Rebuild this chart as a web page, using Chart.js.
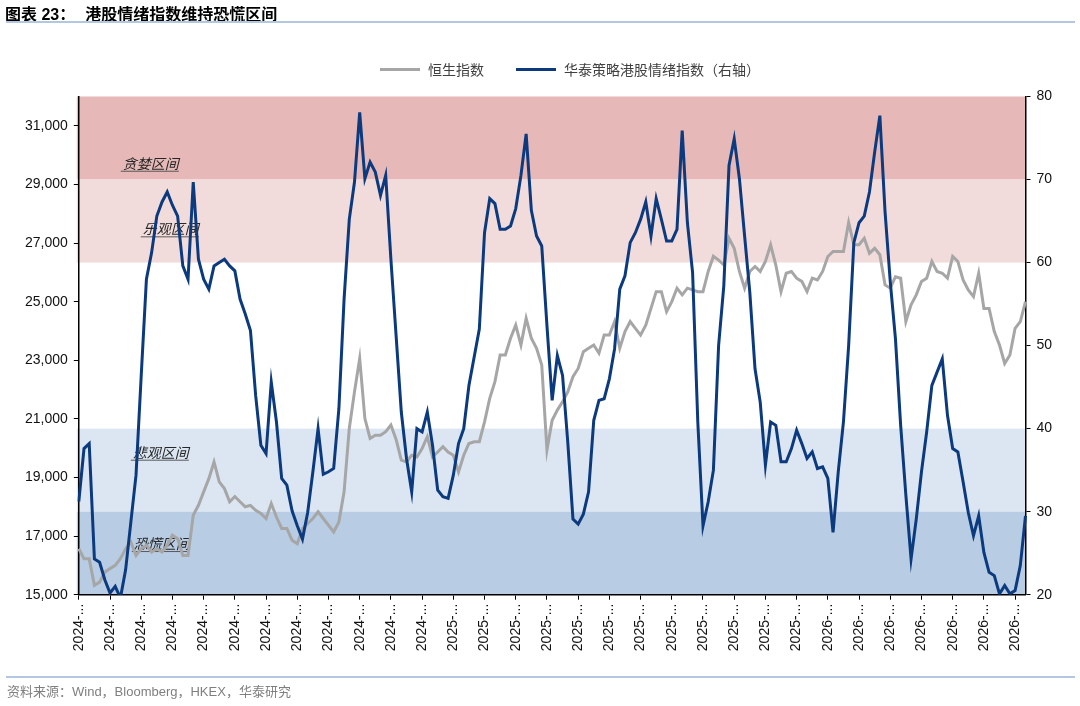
<!DOCTYPE html>
<html>
<head>
<meta charset="utf-8">
<title>港股情绪指数维持恐慌区间</title>
<script src="https://cdn.jsdelivr.net/npm/chart.js@4.4.1/dist/chart.umd.min.js"></script>
<style>
  html, body { margin: 0; padding: 0; background: #fff; }
  #wrap { position: relative; width: 1080px; height: 706px; overflow: hidden; }
  #chart { position: absolute; left: 0; top: 0; }
  .title { position: absolute; left: 5px; top: 1px; font: bold 16px "Liberation Sans", "Noto Sans CJK SC", sans-serif; color: #000; white-space: nowrap; }
  .title .main { margin-left: 10px; }
  .rule { position: absolute; left: 6px; width: 1069px; height: 2px; background: #b4c6e2; }
  .legend { position: absolute; top: 59px; left: 380px; display: flex; align-items: center; font: 14px "Noto Sans CJK SC", sans-serif; color: #404040; white-space: nowrap; }
  .legend .swatch { width: 40px; height: 3px; margin-right: 8px; }
  .legend .gap { width: 32px; }
  .source { position: absolute; left: 7px; top: 681px; font: 13px "Liberation Sans", "Noto Sans CJK SC", sans-serif; color: #7f7f7f; white-space: nowrap; }
</style>
</head>
<body>
<div id="wrap">
  <canvas id="chart" width="1080" height="706"></canvas>
  <div class="title">图表 23：<span class="main">港股情绪指数维持恐慌区间</span></div>
  <div class="rule" style="top:21px"></div>
  <div class="legend">
    <div class="swatch" style="background:#a6a6a6"></div><span>恒生指数</span>
    <div class="gap"></div>
    <div class="swatch" style="background:#0b3a7e"></div><span>华泰策略港股情绪指数（右轴）</span>
  </div>
  <div class="rule" style="top:676px; height:1.5px"></div>
  <div class="source">资料来源：Wind，Bloomberg，HKEX，华泰研究</div>
</div>
<script>
'use strict';

// one tick label per month, 6 observations per month
var tickLabels = [
    '2024-01', '2024-02', '2024-03', '2024-04', '2024-05', '2024-06',
    '2024-07', '2024-08', '2024-09', '2024-10', '2024-11', '2024-12',
    '2025-01', '2025-02', '2025-03', '2025-04', '2025-05', '2025-06',
    '2025-07', '2025-08', '2025-09', '2025-10', '2025-11', '2025-12',
    '2026-01', '2026-02', '2026-03', '2026-04', '2026-05', '2026-06',
    '2026-07'
];
var perMonth = 6;

// left axis ticks (恒生指数)
var leftTicks = [15000, 17000, 19000, 21000, 23000, 25000, 27000, 29000, 31000];
// right axis ticks (情绪指数)
var rightTicks = [20, 30, 40, 50, 60, 70, 80];

// 恒生指数 (left axis)
var hsi = [
    16570, 16230, 16230, 15320, 15430, 15770, 15890, 16000, 16230, 16570,
    16800, 16340, 16570, 16690, 16460, 16570, 16460, 16690, 17030, 16910,
    16340, 16340, 17710, 18050, 18510, 18960, 19530, 18850, 18620, 18170,
    18350, 18170, 18000, 18050, 17880, 17770, 17600, 18110, 17650, 17260,
    17260, 16860, 16740, 17260, 17430, 17600, 17830, 17600, 17370, 17140,
    17480, 18510, 20670, 21920, 23060, 21010, 20330, 20440, 20440, 20560,
    20790, 20300, 19590, 19530, 19760, 19700, 19990, 20390, 19700, 19870,
    20050, 19870, 19760, 19190, 19760, 20160, 20220, 20220, 20900, 21700,
    22270, 23180, 23180, 23750, 24200, 23520, 24430, 23750, 23410, 22840,
    19930, 20950, 21300, 21580, 21920, 22440, 22720, 23290, 23410, 23520,
    23240, 23860, 23860, 24320, 23410, 23980, 24320, 24090, 23860, 24200,
    24770, 25340, 25340, 24660, 25000, 25460, 25230, 25460, 25400, 25340,
    25340, 26030, 26550, 26420, 26250, 27160, 26820, 26030, 25460, 26030,
    26200, 26030, 26370, 26940, 26250, 25340, 25970, 26030, 25800, 25690,
    25340, 25800, 25740, 26030, 26540, 26710, 26710, 26710, 27700, 26940,
    26940, 27160, 26650, 26820, 26600, 25570, 25460, 25850, 25800, 24320,
    24890, 25230, 25690, 25800, 26370, 26030, 25970, 25800, 26540, 26370,
    25740, 25400, 25170, 25970, 24770, 24770, 23980, 23520, 22890, 23180,
    24090, 24320, 25000
];

// 华泰策略港股情绪指数 (right axis)
var sentiment = [
    31.2, 37.6, 38.2, 24.3, 23.9, 21.8, 20.2, 21.0, 19.6, 23.0,
    28.7, 34.4, 46.4, 58.0, 61.2, 65.6, 67.3, 68.5, 66.9, 65.6,
    59.6, 58.0, 69.7, 60.4, 58.0, 56.8, 59.6, 60.0, 60.4, 59.6,
    59.0, 55.6, 53.8, 51.8, 44.0, 38.0, 37.0, 45.6, 40.8, 34.0,
    33.2, 30.1, 28.3, 26.7, 29.9, 34.8, 40.0, 34.5, 34.8, 35.2,
    42.4, 55.6, 65.2, 69.7, 78.1, 70.1, 72.1, 70.9, 68.1, 70.5,
    60.4, 51.2, 42.0, 36.4, 32.4, 40.0, 39.6, 42.0, 38.0, 32.6,
    31.8, 31.6, 34.4, 38.2, 40.0, 45.2, 48.6, 52.0, 63.6, 67.7,
    67.1, 64.0, 64.0, 64.4, 66.5, 70.5, 75.5, 66.3, 63.2, 62.0,
    52.4, 43.4, 48.8, 46.4, 38.4, 29.1, 28.5, 29.7, 32.4, 41.0,
    43.4, 43.6, 46.0, 49.6, 56.8, 58.4, 62.4, 63.6, 65.2, 67.3,
    63.2, 67.7, 65.2, 62.6, 62.6, 64.0, 75.9, 64.8, 58.8, 40.8,
    28.3, 31.2, 35.0, 50.0, 57.2, 71.7, 74.9, 70.1, 63.2, 56.4,
    47.2, 43.2, 35.6, 40.8, 40.4, 36.0, 36.0, 37.6, 39.8, 38.2,
    36.4, 37.2, 35.2, 35.4, 34.0, 27.5, 34.8, 40.8, 50.0, 62.4,
    64.8, 65.6, 68.5, 73.3, 77.7, 66.1, 57.7, 50.8, 40.4, 32.0,
    24.3, 29.1, 34.8, 39.6, 45.2, 46.8, 48.4, 41.6, 37.6, 37.2,
    33.6, 29.9, 27.1, 29.5, 25.1, 22.7, 22.3, 20.1, 21.1, 20.1,
    20.5, 23.5, 29.5
];

// sentiment zones on the right axis
var zones = [
    { from: 70, to: 80, color: '#e6b8b7', name: '贪婪区间', at: 71.3, dx: 44 },
    { from: 60, to: 70, color: '#f2dcdb', name: '乐观区间', at: 63.4, dx: 64 },
    { from: 30, to: 40, color: '#dce6f2', name: '悲观区间', at: 36.5, dx: 54 },
    { from: 20, to: 30, color: '#b8cce4', name: '恐慌区间', at: 25.5, dx: 55 }
];

var categories = hsi.map(function (v, i) {
    return tickLabels[Math.floor(i / perMonth)];
});

var zonePlugin = {
    id: 'zones',
    beforeDraw: function (chart) {
        var ctx = chart.ctx;
        var area = chart.chartArea;
        var y1 = chart.scales.y1;
        ctx.save();
        zones.forEach(function (z) {
            var top = y1.getPixelForValue(z.to);
            var bottom = y1.getPixelForValue(z.from);
            ctx.fillStyle = z.color;
            ctx.fillRect(area.left - 2, top, area.right - area.left + 2, bottom - top);
        });
        ctx.font = 'italic 14px "Noto Sans CJK SC", sans-serif';
        ctx.textBaseline = 'alphabetic';
        zones.forEach(function (z) {
            var x = area.left + z.dx;
            var y = y1.getPixelForValue(z.at);
            var w = ctx.measureText(z.name).width;
            ctx.fillStyle = '#262626';
            ctx.fillText(z.name, x, y);
            ctx.strokeStyle = '#595959';
            ctx.lineWidth = 1;
            ctx.beginPath();
            ctx.moveTo(x - 2, y + 2.5);
            ctx.lineTo(x + w, y + 2.5);
            ctx.stroke();
        });
        ctx.restore();
    }
};

var axisFont = { family: '"Liberation Sans", Arial, sans-serif', size: 14 };

function axisGrid() {
    return { display: true, drawOnChartArea: false, drawTicks: true, tickLength: 5, color: '#000', lineWidth: 1 };
}

function fixedTicks(values) {
    return function (scale) {
        scale.ticks = values.map(function (v) { return { value: v }; });
    };
}

new Chart(document.getElementById('chart'), {
    type: 'line',
    data: {
        labels: categories,
        datasets: [{
            label: '恒生指数',
            data: hsi,
            yAxisID: 'y',
            borderColor: '#a6a6a6',
            borderWidth: 3,
            pointRadius: 0,
            tension: 0,
            order: 2
        }, {
            label: '华泰策略港股情绪指数（右轴）',
            data: sentiment,
            yAxisID: 'y1',
            borderColor: '#0b3a7e',
            borderWidth: 3,
            pointRadius: 0,
            tension: 0,
            order: 1
        }]
    },
    options: {
        responsive: false,
        animation: false,
        layout: { padding: { top: 96.5, left: 0, right: 0, bottom: 0 } },
        plugins: {
            legend: { display: false },
            tooltip: { enabled: false }
        },
        scales: {
            x: {
                type: 'category',
                offset: false,
                grid: axisGrid(),
                border: { display: true, color: '#000', width: 1.5 },
                afterBuildTicks: function (scale) {
                    scale.ticks = scale.ticks.filter(function (t) { return t.value % perMonth === 0; });
                },
                afterFit: function (scale) { scale.height = 111.3; },
                ticks: {
                    autoSkip: false,
                    maxRotation: 90,
                    minRotation: 90,
                    padding: 4,
                    color: '#111',
                    font: axisFont,
                    callback: function (value) {
                        return tickLabels[value / perMonth].slice(0, 5) + '...';
                    }
                }
            },
            y: {
                position: 'left',
                min: 15000,
                max: 32000,
                grid: axisGrid(),
                border: { display: true, color: '#000', width: 1.5 },
                afterBuildTicks: fixedTicks(leftTicks),
                afterFit: function (scale) { scale.width = 78.8; },
                ticks: {
                    padding: 6,
                    color: '#111',
                    font: axisFont,
                    callback: function (v) { return v.toLocaleString('en-US'); }
                }
            },
            y1: {
                position: 'right',
                min: 20,
                max: 80,
                grid: axisGrid(),
                border: { display: true, color: '#000', width: 1.5 },
                afterBuildTicks: fixedTicks(rightTicks),
                afterFit: function (scale) { scale.width = 54.5; },
                ticks: {
                    padding: 6,
                    color: '#111',
                    font: axisFont
                }
            }
        }
    },
    plugins: [zonePlugin]
});
</script>
</body>
</html>
